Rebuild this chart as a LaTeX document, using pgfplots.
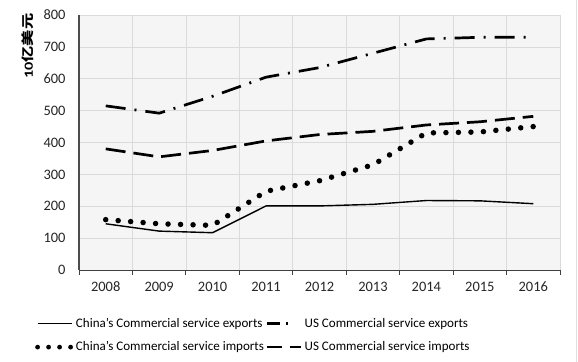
\documentclass[border=0pt]{standalone}
\usepackage{pgfplots}
\pgfplotsset{compat=1.18}
\usepackage{fontspec}
\setmainfont{Carlito}
\newfontfamily\cjk{Noto Sans CJK SC}
\begin{document}
\begin{tikzpicture}
\path[use as bounding box, fill=white] (0bp,0bp) rectangle (578bp,362bp);
\draw[gray!25, line width=1bp] (576bp,0bp) -- (576bp,362bp);
\begin{axis}[
  at={(79bp,92bp)}, anchor=south west,
  width=481bp, height=255bp, scale only axis,
  xmin=0, xmax=9, ymin=0, ymax=800,
  axis x line*=bottom, axis y line*=left,
  axis background/.style={fill=gray!8},
  xtick={0,...,9}, xticklabels={2008,2009,2010,2011,2012,2013,2014,2015,2016},
  x tick label as interval,
  ytick={0,100,...,800},
  grid=major, major grid style={gray!28, line width=0.7bp},
  x axis line style={black!75, line width=1bp},
  y axis line style={black!70, line width=1.3bp},
  xtick style={draw=black!75, line width=0.9bp},
  ytick style={draw=none},
  xtick align=outside, major tick length=5bp,
  tick label style={font=\fontsize{14.5}{16}\selectfont, text=black!85},
  /pgf/number format/assume math mode=true,
  yticklabel style={xshift=-10bp},
  xticklabel style={yshift=-5bp, text height=1.6ex, text depth=0.3ex},
  ylabel={\scalebox{1.3}[1]{\bfseries 10{\cjk\bfseries 亿美元}}},
  ylabel style={at={(axis description cs:-0.106,0.878)}, anchor=center, font=\fontsize{12.5}{14}\selectfont},
  legend columns=2,
  legend style={at={(axis description cs:-0.0915,-0.18)}, anchor=north west, draw=none, fill=none,
    font=\fontsize{13.1}{15}\selectfont, inner sep=0pt,
    /tikz/every even column/.append style={column sep=0bp},
    row sep=9bp},
  legend cell align=left,
  legend image code/.code={\draw[#1] (0bp,0bp) -- (34bp,0bp);},
]
% China exports
\addplot[forget plot, black, line width=1.4bp] coordinates {(0.5,145)(1.5,122)(2.5,117)(3.5,201)(4.5,201)(5.5,206)(6.5,218)(7.5,217)(8.5,208)};
% US exports
\addplot[forget plot, black, line width=2.7bp, dash pattern=on 20bp off 9bp on 2bp off 9bp] coordinates {(0.5,515)(1.5,492)(2.5,545)(3.5,605)(4.5,635)(5.5,680)(6.5,725)(7.5,730)(8.5,730)};
% China imports
\addplot[forget plot, black, line width=5.5bp, line cap=round, dash pattern=on 0bp off 12.5bp] coordinates {(0.5,158)(1.5,145)(2.5,140)(3.5,247)(4.5,280)(5.5,330)(6.5,430)(7.5,433)(8.5,450)};
% US imports
\addplot[forget plot, black, line width=2.7bp, dash pattern=on 20bp off 8bp] coordinates {(0.5,380)(1.5,355)(2.5,375)(3.5,405)(4.5,425)(5.5,435)(6.5,455)(7.5,465)(8.5,482)};
\addlegendimage{black, line width=1.4bp}
\addlegendimage{black, line width=2.7bp, dash pattern=on 13bp off 6bp on 2bp off 20bp}
\addlegendimage{black, line width=4.8bp, line cap=round, dash pattern=on 0bp off 11bp}
\addlegendimage{black, line width=2.7bp, dash pattern=on 15bp off 8bp on 12bp}
\legend{China's Commercial service exports, US Commercial service exports, China's Commercial service imports, US Commercial service imports}
\end{axis}
\end{tikzpicture}
\end{document}
